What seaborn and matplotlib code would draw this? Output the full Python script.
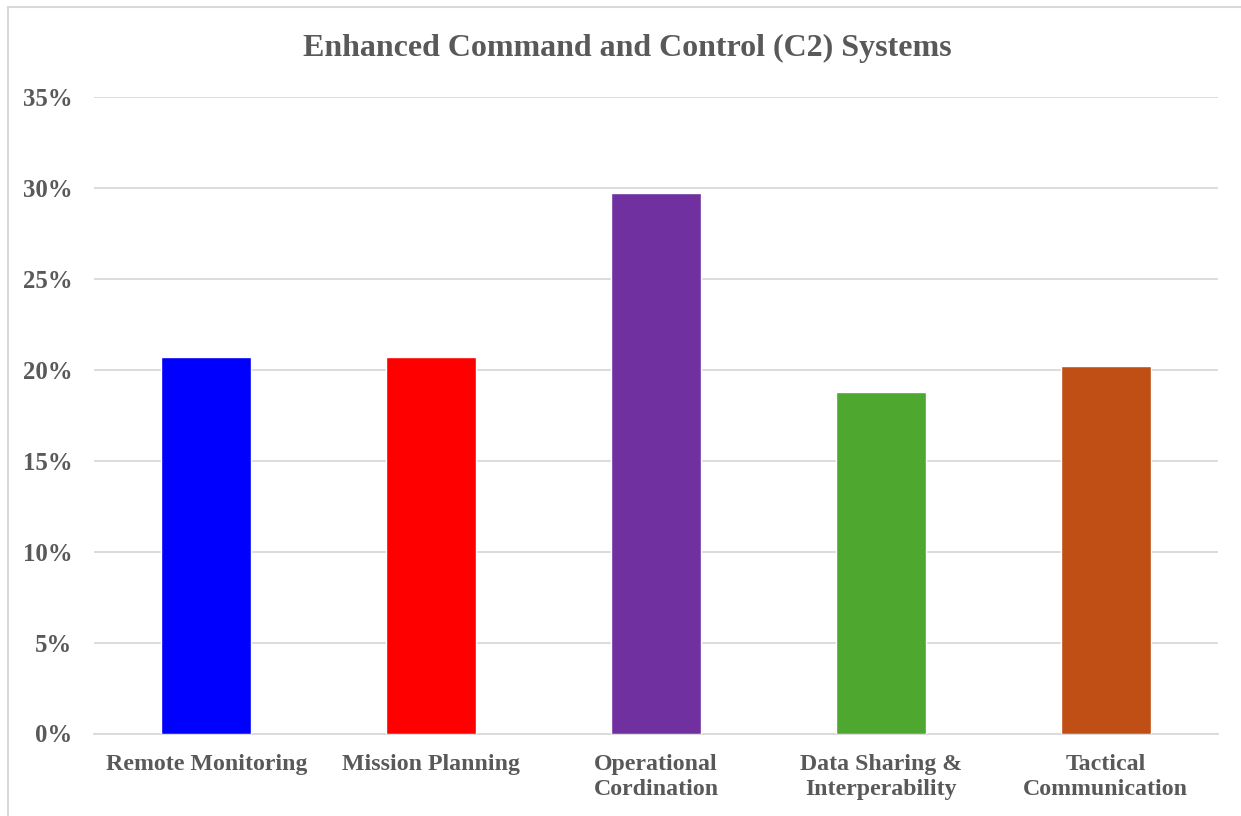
import matplotlib
matplotlib.use("Agg")
import matplotlib.pyplot as plt
import seaborn as sns
import pandas as pd
from matplotlib.patches import Rectangle
from matplotlib.ticker import FuncFormatter, MultipleLocator

categories = [
    "Remote Monitoring",
    "Mission Planning",
    "Operational\nCordination",
    "Data Sharing &\nInterperability",
    "Tactical\nCommunication",
]
shares = [0.207, 0.207, 0.297, 0.188, 0.202]
colors = ["#0000FF", "#FF0000", "#7030A0", "#4EA72E", "#C04F15"]
title = "Enhanced Command and Control (C2) Systems"

df = pd.DataFrame({"category": categories, "share": shares})

sns.set_theme(style="white")
plt.rcParams["font.family"] = ["Liberation Serif", "DejaVu Serif"]
text_color = "#595959"
grid_color = "#D9D9D9"

fig = plt.figure(figsize=(12.41, 8.16), dpi=100)
ax = fig.add_axes([94 / 1241, 1 - 733.5 / 816, (1218 - 94) / 1241, (733.5 - 97) / 816])

sns.barplot(data=df, x="category", y="share", hue="category",
            palette=colors, width=0.4, legend=False, ax=ax, zorder=3,
            saturation=1)

ax.set_ylim(0, 0.35)
ax.yaxis.set_major_locator(MultipleLocator(0.05))
ax.yaxis.set_major_formatter(FuncFormatter(lambda v, _: f"{v * 100:.0f}%"))
ax.grid(axis="y", color=grid_color, linewidth=1.3, zorder=0)
ax.set_axisbelow(True)
for side in ["top", "right", "left"]:
    ax.spines[side].set_visible(False)
ax.spines["bottom"].set_color(grid_color)
ax.spines["bottom"].set_linewidth(1.3)
ax.tick_params(axis="both", length=0)
ax.tick_params(axis="y", pad=15.5)
ax.tick_params(axis="x", pad=15)
ax.set_xlabel("")
ax.set_ylabel("")
for lbl in ax.get_yticklabels():
    lbl.set_fontsize(17.8)
    lbl.set_fontweight("bold")
    lbl.set_color(text_color)
for lbl in ax.get_xticklabels():
    lbl.set_fontsize(17.2)
    lbl.set_fontweight("bold")
    lbl.set_color(text_color)
    lbl.set_linespacing(1.25)

fig.text(627 / 1241, 1 - 48 / 816, title, ha="center", va="center",
         fontsize=23, fontweight="bold", color=text_color)

# light frame around the chart area
fig.patches.append(Rectangle((8 / 1241, -0.1), 1.2, 1 - 7 / 816 + 0.1,
                             transform=fig.transFigure, fill=False,
                             edgecolor="#D9D9D9", linewidth=1.5))

fig.savefig("out.png", dpi=100, facecolor="white")
